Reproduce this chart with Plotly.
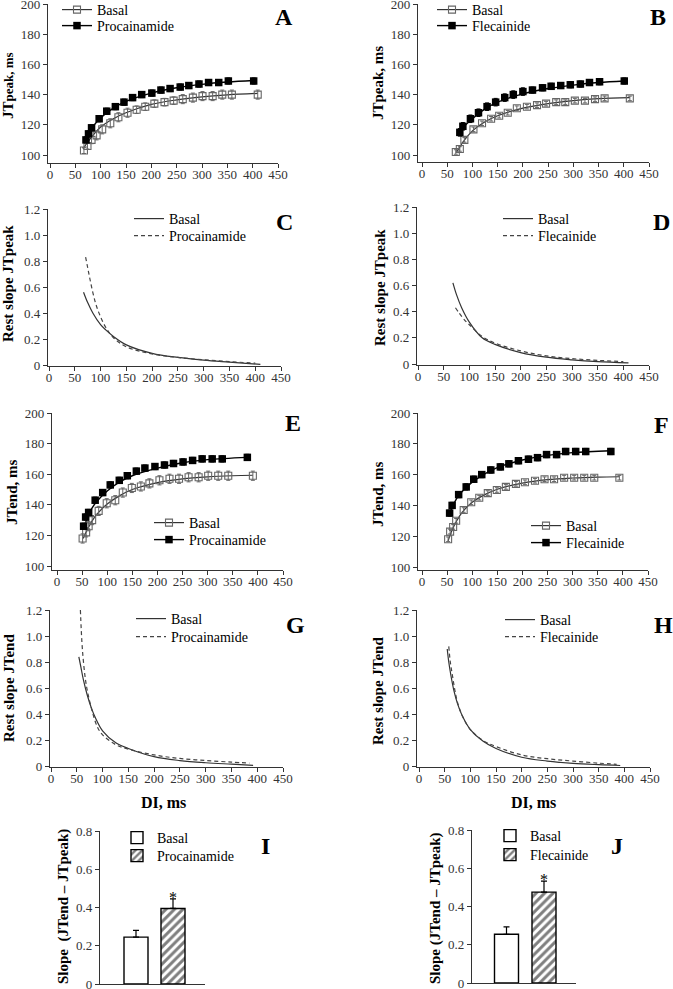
import plotly.graph_objects as go

W, H = 673, 989
FONT = "Liberation Serif"

# ---------------- data ----------------
di_ticks = [0, 50, 100, 150, 200, 250, 300, 350, 400, 450]
ms_ticks_A = [100, 120, 140, 160, 180, 200]
slope_ticks = [0, 0.2, 0.4, 0.6, 0.8, 1.0, 1.2]
slope_ticktext = ["0", "0.2", "0.4", "0.6", "0.8", "1.0", "1.2"]
bar_ticks = [0, 0.2, 0.4, 0.6, 0.8]
bar_ticktext = ["0", "0.2", "0.4", "0.6", "0.8"]

# Panel A
A_basal_x = [67, 74, 82, 92, 103, 119, 135, 153, 171, 188, 206, 226, 244, 262, 282, 301, 321, 340, 359, 410]
A_basal_y = [103, 106, 110, 113, 117, 121, 125, 128, 130, 132, 134, 135, 136, 137, 138, 139, 139, 140, 140, 140]
A_basal_err = [2, 2, 2.5, 3, 3, 3, 3, 3, 2.5, 2.5, 2.5, 2.5, 2.5, 3, 3, 3, 3, 3, 3, 3]
A_proc_x = [71, 76, 82, 97, 112, 129, 146, 163, 181, 201, 219, 237, 257, 274, 294, 313, 333, 352, 402]
A_proc_y = [110, 114, 118, 124, 129, 132, 135, 138, 140, 141, 143, 144, 145, 146, 147, 148, 148, 149, 149]
A_proc_err = [2, 2, 2, 2, 2, 2, 2, 2, 2, 2, 2, 2, 2, 2, 2, 2, 2, 2, 2]
A_fitb_x = [65, 80, 100, 125, 150, 200, 250, 300, 350, 410]
A_fitb_y = [104, 111, 118.5, 124, 128, 133.5, 136.5, 138.5, 139.8, 140.8]
A_fitp_x = [71, 80, 100, 125, 150, 200, 250, 300, 350, 402]
A_fitp_y = [108.5, 116.5, 124.5, 131, 135.5, 141, 144.5, 146.8, 148.3, 149.3]

# Panel B
B_basal_x = [67, 75, 84, 102, 119, 137, 153, 170, 188, 208, 228, 246, 266, 284, 303, 323, 343, 362, 412]
B_basal_y = [102, 104, 110, 117, 121, 124, 126, 128, 131, 132, 133, 134, 135, 135, 136, 136, 137, 137.5, 137.5]
B_basal_err = [1.5, 1.5, 1.5, 1.5, 1.5, 1.5, 1.5, 1.5, 1.5, 1.5, 1.5, 1.5, 1.5, 1.5, 1.5, 1.5, 1.5, 1.5, 1.5]
B_flec_x = [75, 81, 96, 112, 129, 146, 164, 181, 200, 219, 239, 256, 275, 294, 314, 332, 352, 401]
B_flec_y = [115, 119, 124, 128, 132, 135, 138, 140, 142, 143, 144.5, 145.5, 146, 146.5, 147, 148, 148.5, 149]
B_flec_err = [2.5, 2.5, 2.5, 2.5, 2.5, 2.5, 2.5, 2.5, 2.5, 2, 2, 2, 2, 2, 2, 2, 2, 2]
B_fitb_x = [68, 80, 100, 125, 150, 200, 250, 300, 350, 412]
B_fitb_y = [101.5, 108, 116, 122, 126, 131, 134, 136, 137.3, 138]
B_fitf_x = [73, 80, 100, 125, 150, 200, 250, 300, 350, 401]
B_fitf_y = [113, 117.5, 124, 130.5, 135, 140.5, 144, 146.3, 148, 149]

# Panel C (rest slope JTpeak, procainamide)
C_basal_x = [67, 75, 85, 100, 110, 125, 150, 200, 250, 300, 350, 410]
C_basal_y = [0.56, 0.48, 0.40, 0.31, 0.27, 0.22, 0.155, 0.09, 0.058, 0.037, 0.022, 0.005]
C_proc_x = [71, 75, 80, 90, 100, 110, 125, 150, 200, 250, 300, 350, 400]
C_proc_y = [0.83, 0.75, 0.65, 0.48, 0.37, 0.29, 0.21, 0.14, 0.085, 0.058, 0.04, 0.026, 0.014]

# Panel D (rest slope JTpeak, flecainide)
D_basal_x = [68, 75, 85, 100, 125, 150, 200, 250, 300, 350, 410]
D_basal_y = [0.62, 0.53, 0.43, 0.32, 0.20, 0.15, 0.087, 0.052, 0.032, 0.018, 0.008]
D_flec_x = [73, 80, 90, 100, 125, 150, 200, 250, 300, 350, 400]
D_flec_y = [0.43, 0.39, 0.34, 0.30, 0.21, 0.16, 0.10, 0.062, 0.041, 0.028, 0.018]

# Panel E
E_basal_x = [51, 58, 63, 70, 83, 99, 116, 131, 149, 167, 184, 204, 224, 243, 262, 282, 301, 321, 341, 390]
E_basal_y = [118, 122, 126, 130, 136, 141, 143, 148, 151, 152, 154, 156, 157, 157, 158, 158, 159, 159, 159, 159]
E_basal_err = [3, 3, 3, 3, 3, 3, 3, 3, 3, 3, 3, 3, 3, 3, 3, 3, 3, 3, 3, 3]
E_proc_x = [53, 57, 63, 76, 91, 106, 124, 140, 158, 175, 195, 214, 232, 251, 270, 289, 309, 329, 379]
E_proc_y = [126, 132, 135, 143, 148, 153, 156, 159, 162, 164, 165, 166, 167, 168, 169, 170, 170, 170, 171]
E_proc_err = [2, 2, 2, 2, 2, 2, 2, 2, 2, 2, 2, 2, 2, 2, 2, 2, 2, 2, 2]
E_fitb_x = [52, 60, 70, 80, 100, 125, 150, 200, 250, 300, 350, 390]
E_fitb_y = [118, 123.5, 129.5, 134, 140.5, 146, 150, 154.5, 157, 158.3, 159, 159.3]
E_fitp_x = [53, 60, 70, 80, 100, 125, 150, 200, 250, 300, 379]
E_fitp_y = [124, 131, 138, 142.5, 149, 155, 159, 164, 167.5, 169.5, 171]

# Panel F
F_basal_x = [52, 56, 62, 68, 83, 98, 114, 131, 149, 167, 187, 205, 225, 244, 263, 283, 303, 323, 343, 393]
F_basal_y = [118, 123, 126, 130, 137, 142, 145, 148, 150, 152, 154, 155, 156, 157, 157, 158, 158, 158, 158, 158]
F_basal_err = [1.5, 1.5, 1.5, 1.5, 1.5, 1.5, 1.5, 1.5, 1.5, 1.5, 1.5, 1.5, 1.5, 1.5, 1.5, 1.5, 1.5, 1.5, 1.5, 1.5]
F_flec_x = [55, 60, 73, 88, 103, 119, 137, 156, 173, 192, 212, 230, 248, 268, 286, 306, 326, 376]
F_flec_y = [135, 140, 147, 152, 157, 160, 163, 165, 167, 169, 170, 171, 173, 173, 175, 175, 175, 175]
F_flec_err = [2, 2, 2, 2, 2, 2, 2, 2, 2, 2, 2, 2, 2, 2, 2, 2, 2, 2]
F_fitb_x = [52, 60, 70, 80, 100, 125, 150, 200, 250, 300, 350, 393]
F_fitb_y = [117, 124, 130.5, 135.5, 142, 147, 150.5, 154.5, 156.7, 157.8, 158.4, 158.6]
F_fitf_x = [55, 60, 70, 80, 100, 125, 150, 200, 250, 300, 376]
F_fitf_y = [134, 138.5, 145, 149, 155, 160.5, 164.5, 169.5, 172.5, 174.3, 175.5]

# Panel G (rest slope JTend, procainamide)
G_basal_x = [54, 58, 63, 70, 78, 85, 100, 125, 150, 200, 250, 300, 350, 392]
G_basal_y = [0.84, 0.76, 0.66, 0.55, 0.45, 0.38, 0.27, 0.18, 0.135, 0.072, 0.042, 0.025, 0.014, 0.005]
G_proc_x = [57, 60, 63, 67, 72, 80, 90, 100, 125, 150, 200, 250, 300, 350, 385]
G_proc_y = [1.2, 0.95, 0.80, 0.66, 0.55, 0.42, 0.30, 0.24, 0.165, 0.13, 0.085, 0.058, 0.042, 0.03, 0.022]

# Panel H (rest slope JTend, flecainide)
H_basal_x = [55, 58, 62, 68, 75, 85, 100, 125, 150, 200, 250, 300, 350, 392]
H_basal_y = [0.90, 0.80, 0.70, 0.58, 0.48, 0.38, 0.28, 0.19, 0.135, 0.067, 0.038, 0.02, 0.01, 0.004]
H_flec_x = [58, 61, 65, 70, 75, 85, 100, 125, 150, 200, 250, 300, 350, 385]
H_flec_y = [0.92, 0.80, 0.70, 0.58, 0.49, 0.38, 0.28, 0.195, 0.15, 0.085, 0.056, 0.038, 0.022, 0.013]

# Panels I, J (bars)
I_groups = ["Basal", "Procainamide"]
I_vals = [0.245, 0.395]
I_err = [0.035, 0.05]
J_groups = ["Basal", "Flecainide"]
J_vals = [0.255, 0.475]
J_err = [0.038, 0.058]

# ---------------- helpers ----------------
def px(p):
    return p / W

def py(p):
    return 1 - p / H

LINE_C = "#333"
OPEN_C = "#666"
TICKFONT = dict(family=FONT, size=13, color="#333")
DASH = "4px,3px"

fig = go.Figure()
layout = dict(
    width=W, height=H, margin=dict(l=0, r=0, t=0, b=0, autoexpand=False),
    paper_bgcolor="white", plot_bgcolor="white",
    font=dict(family=FONT, color="black"),
    showlegend=True, annotations=[],
)

AXCOMMON = dict(showline=True, linecolor=LINE_C, linewidth=1.4, tickcolor=LINE_C, tickwidth=1.2,
                tickfont=TICKFONT, showgrid=False, zeroline=False, fixedrange=True, automargin=False,
                ticklabeloverflow="allow")

def add_axes(n, xl, x0, x450, yt_px, yt_val, yb_px, yb_val, line_py, ytickvals, yticktext=None):
    ux = (x450 - x0) / 450.0
    xlow = -(x0 - xl) / ux
    uy = (yb_px - yt_px) / (yt_val - yb_val)
    ylow = yb_val - (line_py - yb_px) / uy
    xs = "xaxis" if n == 1 else f"xaxis{n}"
    ys = "yaxis" if n == 1 else f"yaxis{n}"
    layout[xs] = dict(domain=[px(xl), px(x450)], range=[xlow, 450], anchor=f"y{'' if n == 1 else n}",
                      ticks="outside", ticklen=4, tickvals=di_ticks, ticklabelstandoff=-5, **AXCOMMON)
    layout[ys] = dict(domain=[py(line_py), py(yt_px)], range=[ylow, yt_val], anchor=f"x{'' if n == 1 else n}",
                      ticks="outside", ticklen=4, tickvals=ytickvals,
                      ticktext=yticktext if yticktext else [str(v) for v in ytickvals], **AXCOMMON)

def ax(n):
    return ("x" if n == 1 else f"x{n}", "y" if n == 1 else f"y{n}")

legend_count = [0]

def new_legend(text_x, center_y, offx=41):
    legend_count[0] += 1
    name = "legend" if legend_count[0] == 1 else f"legend{legend_count[0]}"
    layout[name] = dict(x=px(text_x - offx), y=py(center_y - 16), xanchor="left", yanchor="top",
                        bgcolor="rgba(0,0,0,0)", font=dict(family=FONT, size=14, color="black"),
                        itemwidth=30, tracegroupgap=0)
    return name

def scatter_panel(n, bx, by, be, dx, dy, de, fbx, fby, fdx, fdy, dname, tx, cy1, cy2):
    xa, ya = ax(n)
    fig.add_trace(go.Scatter(x=fbx, y=fby, mode="lines", line=dict(color=LINE_C, width=1.2, shape="spline"),
                             xaxis=xa, yaxis=ya, showlegend=False, hoverinfo="skip"))
    fig.add_trace(go.Scatter(x=fdx, y=fdy, mode="lines", line=dict(color="black", width=1.4, shape="spline"),
                             xaxis=xa, yaxis=ya, showlegend=False, hoverinfo="skip"))
    fig.add_trace(go.Scatter(x=bx, y=by, mode="markers",
                             marker=dict(symbol="square-open", size=7, color=OPEN_C, line=dict(width=1.1)),
                             error_y=dict(type="data", array=be, color=OPEN_C, thickness=1, width=2),
                             xaxis=xa, yaxis=ya, showlegend=False))
    fig.add_trace(go.Scatter(x=dx, y=dy, mode="markers",
                             marker=dict(symbol="square", size=7.5, color="black"),
                             error_y=dict(type="data", array=de, color="black", thickness=1, width=2),
                             xaxis=xa, yaxis=ya, showlegend=False))
    # legend entries
    fig.add_trace(go.Scatter(x=[None], y=[None], mode="lines+markers", name="Basal",
                             line=dict(color=LINE_C, width=1.2),
                             marker=dict(symbol="square-open", size=7, color=OPEN_C, line=dict(width=1.1)),
                             xaxis=xa, yaxis=ya, legend=new_legend(tx, cy1)))
    fig.add_trace(go.Scatter(x=[None], y=[None], mode="lines+markers", name=dname,
                             line=dict(color="black", width=1.4),
                             marker=dict(symbol="square", size=7.5, color="black"),
                             xaxis=xa, yaxis=ya, legend=new_legend(tx, cy2)))

def slope_panel(n, bx, by, dx, dy, dname, tx, cy1, cy2):
    xa, ya = ax(n)
    fig.add_trace(go.Scatter(x=bx, y=by, mode="lines", name="Basal",
                             line=dict(color=LINE_C, width=1.2, shape="spline"),
                             xaxis=xa, yaxis=ya, legend=new_legend(tx, cy1)))
    fig.add_trace(go.Scatter(x=dx, y=dy, mode="lines", name=dname,
                             line=dict(color="#444", width=1.2, dash=DASH, shape="spline"),
                             xaxis=xa, yaxis=ya, legend=new_legend(tx, cy2)))

def bar_panel(n, groups, vals, errs, xl, xr, c0, c1, yt_px, yb_px, tx, cy1, cy2):
    xa, ya = ax(n)
    unit = c1 - c0
    xs = "xaxis" if n == 1 else f"xaxis{n}"
    ys = "yaxis" if n == 1 else f"yaxis{n}"
    layout[xs] = dict(domain=[px(xl), px(xr)], type="category", categoryorder="array", categoryarray=groups,
                      range=[-(c0 - xl) / unit, (xr - c0) / unit], anchor=ya,
                      ticks="", showticklabels=False, **AXCOMMON)
    layout[ys] = dict(domain=[py(yb_px), py(yt_px)], range=[0, 0.8], anchor=xa,
                      ticks="outside", ticklen=4, tickvals=bar_ticks, ticktext=bar_ticktext, **AXCOMMON)
    w = 24.0 / unit
    fig.add_trace(go.Bar(x=[groups[0]], y=[vals[0]], width=w, name="Basal",
                         marker=dict(color="white", line=dict(color="black", width=1.4)),
                         error_y=dict(type="data", array=[errs[0]], arrayminus=[0], symmetric=False,
                                      color="black", thickness=1.2, width=3),
                         xaxis=xa, yaxis=ya, legend=new_legend(tx, cy1, 40)))
    fig.add_trace(go.Bar(x=[groups[1]], y=[vals[1]], width=w, name=groups[1],
                         marker=dict(color="white", line=dict(color="black", width=1.4),
                                     pattern=dict(shape="/", fgcolor="black", bgcolor="white", size=6, solidity=0.5)),
                         error_y=dict(type="data", array=[errs[1]], arrayminus=[0], symmetric=False,
                                      color="black", thickness=1.2, width=3),
                         xaxis=xa, yaxis=ya, legend=new_legend(tx, cy2, 40)))
    fig.add_trace(go.Scatter(x=[groups[1]], y=[vals[1] + errs[1]], mode="text", text=["*"],
                             textposition="middle center", textfont=dict(family=FONT, size=16, color="black"),
                             xaxis=xa, yaxis=ya, showlegend=False, hoverinfo="skip"))

# ---------------- axes ----------------
add_axes(1, 48, 50, 278, 4, 200, 155, 100, 163, ms_ticks_A)
add_axes(2, 418, 422, 649, 4, 200, 155, 100, 162, ms_ticks_A)
add_axes(3, 48, 49, 281, 209, 1.2, 365, 0, 366, slope_ticks, slope_ticktext)
add_axes(4, 417, 418, 649, 207, 1.2, 364, 0, 365, slope_ticks, slope_ticktext)
add_axes(5, 52, 57, 283, 413, 200, 566, 100, 570, ms_ticks_A)
add_axes(6, 418, 422, 648, 413, 200, 567, 100, 570, ms_ticks_A)
add_axes(7, 50, 51, 283, 610, 1.2, 766, 0, 767, slope_ticks, slope_ticktext)
add_axes(8, 417, 419, 650, 610, 1.2, 766, 0, 767, slope_ticks, slope_ticktext)

# ---------------- traces ----------------
scatter_panel(1, A_basal_x, A_basal_y, A_basal_err, A_proc_x, A_proc_y, A_proc_err,
              A_fitb_x, A_fitb_y, A_fitp_x, A_fitp_y, "Procainamide", 98, 10, 26)
scatter_panel(2, B_basal_x, B_basal_y, B_basal_err, B_flec_x, B_flec_y, B_flec_err,
              B_fitb_x, B_fitb_y, B_fitf_x, B_fitf_y, "Flecainide", 473, 10, 26)
slope_panel(3, C_basal_x, C_basal_y, C_proc_x, C_proc_y, "Procainamide", 170, 219, 236)
slope_panel(4, D_basal_x, D_basal_y, D_flec_x, D_flec_y, "Flecainide", 539, 219, 236)
scatter_panel(5, E_basal_x, E_basal_y, E_basal_err, E_proc_x, E_proc_y, E_proc_err,
              E_fitb_x, E_fitb_y, E_fitp_x, E_fitp_y, "Procainamide", 190, 523, 540)
scatter_panel(6, F_basal_x, F_basal_y, F_basal_err, F_flec_x, F_flec_y, F_flec_err,
              F_fitb_x, F_fitb_y, F_fitf_x, F_fitf_y, "Flecainide", 567, 526, 543)
slope_panel(7, G_basal_x, G_basal_y, G_proc_x, G_proc_y, "Procainamide", 172, 619, 637)
slope_panel(8, H_basal_x, H_basal_y, H_flec_x, H_flec_y, "Flecainide", 541, 620, 637)
bar_panel(9, I_groups, I_vals, I_err, 100, 205, 136, 173, 831, 984, 157, 838, 856)
bar_panel(10, J_groups, J_vals, J_err, 472, 576, 506.5, 544, 830, 983, 530, 836, 855)

# ---------------- text annotations ----------------
def ann(text, x, y, size, bold=True, angle=0):
    layout["annotations"].append(dict(
        text=f"<b>{text}</b>" if bold else text, x=px(x), y=py(y), xref="paper", yref="paper",
        xanchor="center", yanchor="middle", showarrow=False, textangle=angle,
        font=dict(family=FONT, size=size, color="black")))

for letter, x, y in [("A", 284, 17), ("B", 658, 17), ("C", 284, 222), ("D", 661, 222),
                     ("E", 293, 423), ("F", 661, 425), ("G", 295, 625), ("H", 663, 625),
                     ("I", 265, 846), ("J", 617, 846)]:
    ann(letter, x, y, 24)

ann('JT<span style="font-size:13px">peak, ms</span>', 8, 86, 15, angle=-90)
ann("JTpeak, ms", 378, 83, 15, angle=-90)
ann("Rest slope JTpeak", 8, 284, 15, angle=-90)
ann("Rest slope JTpeak", 380, 288, 15, angle=-90)
ann("JTend, ms", 12, 493, 15, angle=-90)
ann("JTend, ms", 378, 495, 15, angle=-90)
ann("Rest slope JTend", 9, 688, 15, angle=-90)
ann("Rest slope JTend", 378, 691, 15, angle=-90)
ann("DI, ms", 163, 802, 16)
ann("DI, ms", 533, 802, 16)
ann("Slope\u00a0\u00a0(JTend \u2013 JTpeak)", 63, 907, 15, angle=-90)
ann("Slope (JTend \u2013 JTpeak)", 435, 908, 15, angle=-90)

fig.update_layout(**layout)
fig.write_html("out.html", config={"displayModeBar": False},
               post_script="document.body.style.margin='0';document.body.style.overflow='hidden';")
